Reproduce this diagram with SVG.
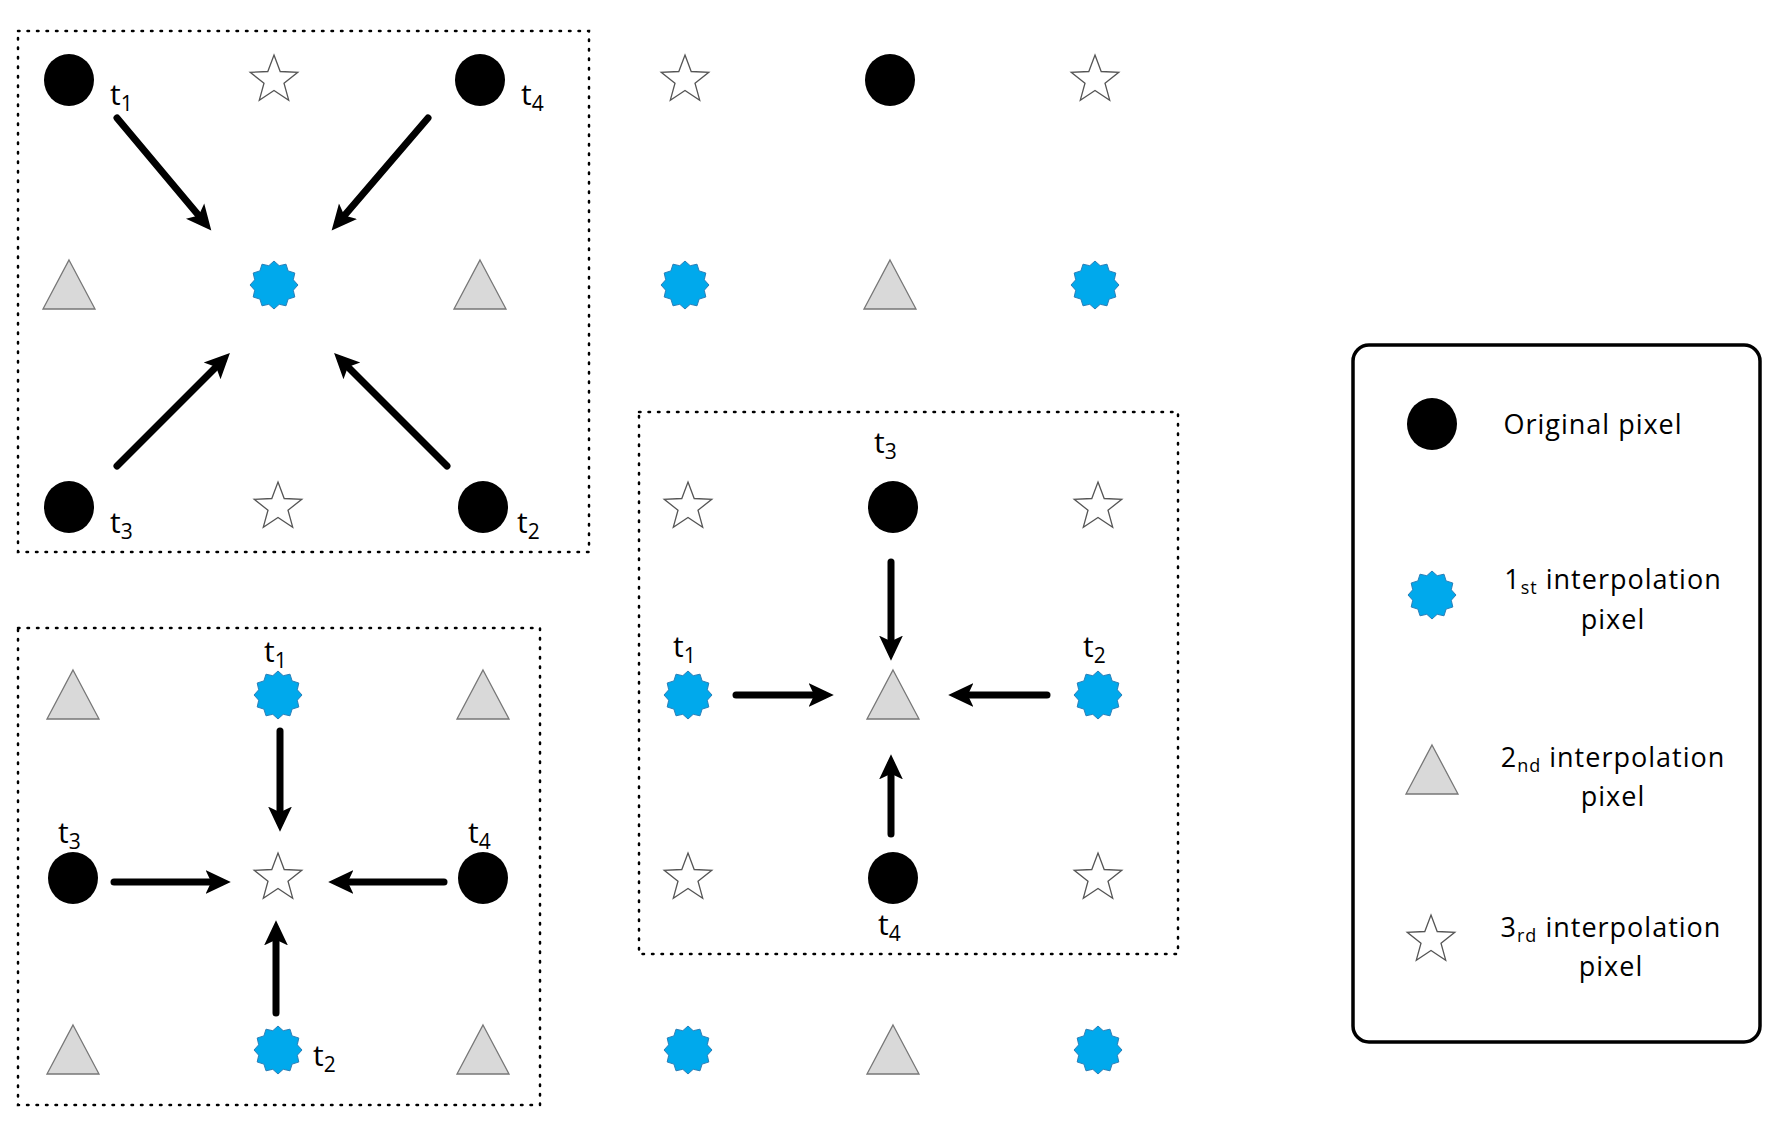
<svg xmlns="http://www.w3.org/2000/svg" xmlns:xlink="http://www.w3.org/1999/xlink" width="1777" height="1125" viewBox="0 0 1777 1125">
<style>
.box{fill:none;stroke:#000;stroke-width:2.5;stroke-dasharray:1.5 8;stroke-linecap:round}
.arr{stroke:#000;stroke-width:7;stroke-linecap:round;fill:none;marker-end:url(#ah)}
.lbl{font-family:"Open Sans","Liberation Sans",sans-serif;font-size:30px;fill:#000}
.lbl tspan.s{font-size:21px}
.leg{font-family:"Open Sans","Liberation Sans",sans-serif;font-size:27px;fill:#000;text-anchor:middle;letter-spacing:1px}
.leg tspan.s{font-size:18px}
</style>
<defs>
<marker id="ah" markerWidth="4" markerHeight="4" refX="2.2" refY="2" orient="auto" markerUnits="strokeWidth"><path d="M0,0.3 L3.6,2 L0,3.7 L0.8,2 Z" fill="#000"/></marker>
<ellipse id="circ" cx="0" cy="0" rx="25" ry="26" fill="#000"/>
<polygon id="burst" fill="#00a9ec" stroke="#2a7fb8" stroke-width="1" points="24,0 19.3,5.2 20.8,12 14.1,14.1 12,20.8 5.2,19.3 0,24 -5.2,19.3 -12,20.8 -14.1,14.1 -20.8,12 -19.3,5.2 -24,0 -19.3,-5.2 -20.8,-12 -14.1,-14.1 -12,-20.8 -5.2,-19.3 0,-24 5.2,-19.3 12,-20.8 14.1,-14.1 20.8,-12 19.3,-5.2"/>
<polygon id="tri" fill="#d9d9d9" stroke="#777" stroke-width="1.3" points="0,-25 26,24 -26,24"/>
<polygon id="star" fill="#fff" stroke="#555" stroke-width="1.3" points="0,-25 6.2,-8.5 23.8,-7.7 10,3.2 14.7,20.2 0,10.5 -14.7,20.2 -10,3.2 -23.8,-7.7 -6.2,-8.5"/>
</defs>
<rect width="1777" height="1125" fill="#fff"/>
<g id="boxes">
<rect class="box" x="18" y="31" width="571" height="521"/>
<rect class="box" x="18" y="628" width="522" height="477"/>
<rect class="box" x="639" y="412" width="539" height="542"/>
</g>
<g id="nodes-top">
<g id="n1"><use xlink:href="#circ" x="69" y="80"/></g>
<g id="n2"><use xlink:href="#star" x="274" y="80"/></g>
<g id="n3"><use xlink:href="#circ" x="480" y="80"/></g>
<g id="n4"><use xlink:href="#star" x="685" y="80"/></g>
<g id="n5"><use xlink:href="#circ" x="890" y="80"/></g>
<g id="n6"><use xlink:href="#star" x="1095" y="80"/></g>
<g id="n7"><use xlink:href="#tri" x="69" y="285"/></g>
<g id="n8"><use xlink:href="#burst" x="274" y="285"/></g>
<g id="n9"><use xlink:href="#tri" x="480" y="285"/></g>
<g id="n10"><use xlink:href="#burst" x="685" y="285"/></g>
<g id="n11"><use xlink:href="#tri" x="890" y="285"/></g>
<g id="n12"><use xlink:href="#burst" x="1095" y="285"/></g>
<g id="n13"><use xlink:href="#circ" x="69" y="507"/></g>
<g id="n14"><use xlink:href="#star" x="278" y="507"/></g>
<g id="n15"><use xlink:href="#circ" x="483" y="507"/></g>
</g>
<g id="nodes-bl">
<g id="n16"><use xlink:href="#tri" x="73" y="695"/></g>
<g id="n17"><use xlink:href="#burst" x="278" y="695"/></g>
<g id="n18"><use xlink:href="#tri" x="483" y="695"/></g>
<g id="n19"><use xlink:href="#circ" x="73" y="878"/></g>
<g id="n20"><use xlink:href="#star" x="278" y="878"/></g>
<g id="n21"><use xlink:href="#circ" x="483" y="878"/></g>
<g id="n22"><use xlink:href="#tri" x="73" y="1050"/></g>
<g id="n23"><use xlink:href="#burst" x="278" y="1050"/></g>
<g id="n24"><use xlink:href="#tri" x="483" y="1050"/></g>
</g>
<g id="nodes-right">
<g id="n25"><use xlink:href="#star" x="688" y="507"/></g>
<g id="n26"><use xlink:href="#circ" x="893" y="507"/></g>
<g id="n27"><use xlink:href="#star" x="1098" y="507"/></g>
<g id="n28"><use xlink:href="#burst" x="688" y="695"/></g>
<g id="n29"><use xlink:href="#tri" x="893" y="695"/></g>
<g id="n30"><use xlink:href="#burst" x="1098" y="695"/></g>
<g id="n31"><use xlink:href="#star" x="688" y="878"/></g>
<g id="n32"><use xlink:href="#circ" x="893" y="878"/></g>
<g id="n33"><use xlink:href="#star" x="1098" y="878"/></g>
<g id="n34"><use xlink:href="#burst" x="688" y="1050"/></g>
<g id="n35"><use xlink:href="#tri" x="893" y="1050"/></g>
<g id="n36"><use xlink:href="#burst" x="1098" y="1050"/></g>
</g>
<g id="connectors">
<line class="arr" x1="117" y1="118" x2="205" y2="223"/>
<line class="arr" x1="428" y1="118" x2="338" y2="223"/>
<line class="arr" x1="117" y1="466" x2="223" y2="360"/>
<line class="arr" x1="447" y1="466" x2="341" y2="360"/>
<line class="arr" x1="280" y1="731" x2="280" y2="822"/>
<line class="arr" x1="276" y1="1013" x2="276" y2="930"/>
<line class="arr" x1="114" y1="882" x2="221" y2="882"/>
<line class="arr" x1="444" y1="882" x2="338" y2="882"/>
<line class="arr" x1="891" y1="562" x2="891" y2="651"/>
<line class="arr" x1="891" y1="834" x2="891" y2="764"/>
<line class="arr" x1="736" y1="695" x2="824" y2="695"/>
<line class="arr" x1="1047" y1="695" x2="958" y2="695"/>
</g>
<g id="labels">
<text class="lbl" x="110" y="105">t<tspan class="s" dy="6">1</tspan></text>
<text class="lbl" x="521" y="105">t<tspan class="s" dy="6">4</tspan></text>
<text class="lbl" x="110" y="533">t<tspan class="s" dy="6">3</tspan></text>
<text class="lbl" x="517" y="533">t<tspan class="s" dy="6">2</tspan></text>
<text class="lbl" x="264" y="662">t<tspan class="s" dy="6">1</tspan></text>
<text class="lbl" x="58" y="843">t<tspan class="s" dy="6">3</tspan></text>
<text class="lbl" x="468" y="843">t<tspan class="s" dy="6">4</tspan></text>
<text class="lbl" x="313" y="1066">t<tspan class="s" dy="6">2</tspan></text>
<text class="lbl" x="874" y="453">t<tspan class="s" dy="6">3</tspan></text>
<text class="lbl" x="673" y="657">t<tspan class="s" dy="6">1</tspan></text>
<text class="lbl" x="1083" y="657">t<tspan class="s" dy="6">2</tspan></text>
<text class="lbl" x="878" y="935">t<tspan class="s" dy="6">4</tspan></text>
</g>
<g id="legend">
<rect x="1353" y="345" width="407" height="697" rx="16" fill="#fff" stroke="#000" stroke-width="3.5"/>
<use xlink:href="#circ" x="1432" y="424"/>
<use xlink:href="#burst" x="1432" y="595"/>
<use xlink:href="#tri" x="1432" y="770"/>
<use xlink:href="#star" x="1431" y="940"/>
<text class="leg" x="1593" y="434">Original pixel</text>
<text class="leg" x="1613" y="589">1<tspan class="s" dy="5">st</tspan><tspan dy="-5">  interpolation</tspan></text>
<text class="leg" x="1613" y="629">pixel</text>
<text class="leg" x="1613" y="767">2<tspan class="s" dy="5">nd</tspan><tspan dy="-5">  interpolation</tspan></text>
<text class="leg" x="1613" y="806">pixel</text>
<text class="leg" x="1611" y="937">3<tspan class="s" dy="5">rd</tspan><tspan dy="-5">  interpolation</tspan></text>
<text class="leg" x="1611" y="976">pixel</text>
</g>
</svg>
